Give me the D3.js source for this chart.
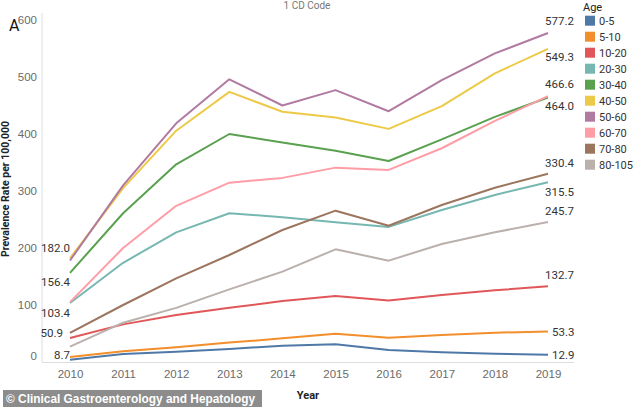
<!DOCTYPE html>
<html>
<head>
<meta charset="utf-8">
<script src="https://cdn.jsdelivr.net/npm/d3@7"></script>
<style>
    body { margin: 0; background: #fff; }
    svg { display: block; font-family: Roboto, "Noto Sans", sans-serif; }
</style>
</head>
<body>
<div id="chart"></div>
<script>
// data (prevalence per 100,000, by age band)
var years = [2010, 2011, 2012, 2013, 2014, 2015, 2016, 2017, 2018, 2019];
var ages = ["0-5", "5-10", "10-20", "20-30", "30-40", "40-50", "50-60", "60-70", "70-80", "80-105"];
var yTicks = [0, 100, 200, 300, 400, 500, 600];

var r0_5 = [4, 14, 18, 23, 28.6, 31, 21, 17, 14.6, 12.9];
var r5_10 = [8.7, 19, 25.7, 34, 41.5, 49.7, 42.7, 47.4, 51.5, 53.3];
var r10_20 = [42, 66, 82.5, 95, 107, 116, 108, 117.5, 125.7, 132.7];
var r20_30 = [103.4, 174, 227.5, 261, 254, 245, 237, 266.7, 293, 315.5];
var r30_40 = [156.4, 261, 346.8, 400, 385, 370.7, 352.6, 390.7, 430, 464.0];
var r40_50 = [182.0, 305, 405.8, 474, 439, 429, 409, 449, 506.5, 549.3];
var r50_60 = [178, 310, 418.7, 496, 450, 477, 440, 494.7, 541.5, 577.2];
var r60_70 = [105, 200, 274, 314.6, 323, 341, 337, 375, 423, 466.6];
var r70_80 = [50.9, 100, 146.8, 187.7, 231.6, 265.5, 239, 275.4, 305.8, 330.4];
var r80_105 = [27, 69, 95, 127.5, 158.5, 197.7, 177.8, 207, 227.5, 245.7];

var seriesValues = [r0_5, r5_10, r10_20, r20_30, r30_40, r40_50, r50_60, r60_70, r70_80, r80_105];
// series that carry a label at their first point
var startLabelled = ["5-10", "20-30", "30-40", "40-50", "70-80"];

// styling
var colors = ["#4e79a7", "#f28e2b", "#e15759", "#76b7b2", "#59a14f",
              "#edc948", "#b07aa1", "#ff9da7", "#9c755f", "#bab0ac"];
// vertical nudge of the value labels (0 = beside the point)
var startDy = { "5-10": -2, "20-30": 10, "30-40": 9, "40-50": -10, "70-80": 0 };
var endDy = { "0-5": 0, "5-10": 0, "10-20": -11, "20-30": 9.5, "30-40": 8.5,
              "40-50": 8, "50-60": -12, "60-70": -12, "70-80": -11, "80-105": -11 };

var width = 634, height = 407;
var plot = { left: 42, right: 574, top: 13, bottom: 362 };

var svg = d3.select("#chart").append("svg")
    .attr("width", width)
    .attr("height", height);

var x = d3.scaleLinear().domain([2010, 2019]).range([70, 548]);
var y = d3.scaleLinear().domain([0, 600]).range([plot.bottom, 20]);

var series = ages.map(function(a, i) {
    return {
        age: a,
        color: colors[i],
        points: years.map(function(yr, j) { return { year: yr, value: seriesValues[i][j] }; })
    };
});

// axis rules
svg.append("line")
    .attr("x1", plot.left).attr("x2", plot.left)
    .attr("y1", plot.top).attr("y2", plot.bottom)
    .attr("stroke", "#ddd").attr("stroke-width", 1);
svg.append("line")
    .attr("x1", plot.left).attr("x2", plot.right)
    .attr("y1", plot.bottom + 0.5).attr("y2", plot.bottom + 0.5)
    .attr("stroke", "#ddd").attr("stroke-width", 1);

var yAxis = svg.append("g")
    .attr("transform", "translate(37,0)")
    .call(d3.axisLeft(y).tickValues(yTicks).tickSize(0).tickPadding(0));
yAxis.select(".domain").remove();
yAxis.selectAll("text")
    .attr("fill", "#6b6b6b")
    .attr("font-size", "11.5px")
    .attr("dy", function(d) { return d === 0 ? "-0.25em" : "0.32em"; });

var xAxis = svg.append("g")
    .attr("transform", "translate(0," + plot.bottom + ")")
    .call(d3.axisBottom(x).tickValues(years).tickFormat(d3.format("d")).tickSize(0).tickPadding(8));
xAxis.select(".domain").remove();
xAxis.selectAll("text")
    .attr("fill", "#6b6b6b")
    .attr("font-size", "11.5px");

// lines
var line = d3.line()
    .x(function(d) { return x(d.year); })
    .y(function(d) { return y(d.value); });

svg.append("g").selectAll("path")
    .data(series)
    .enter().append("path")
    .attr("d", function(d) { return line(d.points); })
    .attr("fill", "none")
    .attr("stroke", function(d) { return d.color; })
    .attr("stroke-width", 2)
    .attr("stroke-linejoin", "round");

// value labels at the ends
var labels = svg.append("g")
    .attr("font-size", "11.5px")
    .attr("fill", "#333");

series.forEach(function(s) {
    var last = s.points[s.points.length - 1];
    var dy = endDy[s.age];
    labels.append("text")
        .attr("x", x(last.year) + (dy === 0 ? 4 : -3))
        .attr("y", y(last.value) + dy)
        .attr("dy", "0.35em")
        .text(last.value.toFixed(1));

    if (startLabelled.indexOf(s.age) >= 0) {
        var first = s.points[0];
        var sdy = startDy[s.age];
        labels.append("text")
            .attr("x", x(first.year) - (sdy === 0 ? 7 : 0))
            .attr("y", y(first.value) + sdy)
            .attr("dy", "0.35em")
            .attr("text-anchor", "end")
            .text(first.value.toFixed(1));
    }
});

// titles
svg.append("text")
    .attr("x", 307).attr("y", 9)
    .attr("text-anchor", "middle")
    .attr("font-size", "10px")
    .attr("fill", "#777")
    .text("1 CD Code");

svg.append("text")
    .attr("x", 9).attr("y", 31)
    .attr("font-size", "16px")
    .attr("fill", "#111")
    .text("A");

svg.append("text")
    .attr("transform", "translate(9,189) rotate(-90)")
    .attr("text-anchor", "middle")
    .attr("font-size", "10.5px")
    .attr("font-weight", "bold")
    .attr("fill", "#222")
    .text("Prevalence Rate per 100,000");

svg.append("text")
    .attr("x", 308).attr("y", 399)
    .attr("text-anchor", "middle")
    .attr("font-size", "11px")
    .attr("font-weight", "bold")
    .attr("fill", "#222")
    .text("Year");

// legend
var legend = svg.append("g").attr("transform", "translate(583,0)");
legend.append("text")
    .attr("x", 0).attr("y", 11)
    .attr("font-size", "11px")
    .attr("fill", "#222")
    .text("Age");

var item = legend.selectAll("g.item")
    .data(series)
    .enter().append("g")
    .attr("class", "item")
    .attr("transform", function(d, i) { return "translate(0," + (20.7 + i * 16) + ")"; });
item.append("rect")
    .attr("x", 2).attr("y", -5)
    .attr("width", 10).attr("height", 10)
    .attr("fill", function(d) { return d.color; });
item.append("text")
    .attr("x", 16).attr("dy", "0.35em")
    .attr("font-size", "11px")
    .attr("fill", "#333")
    .text(function(d) { return d.age; });

// credit strip
svg.append("rect")
    .attr("x", 3).attr("y", 390)
    .attr("width", 259).attr("height", 17)
    .attr("fill", "#8c8c8c");
svg.append("text")
    .attr("x", 6).attr("y", 403)
    .attr("font-family", "'Liberation Sans', Arial, sans-serif")
    .attr("font-size", "12.5px")
    .attr("font-weight", "bold")
    .attr("fill", "#fff")
    .attr("textLength", 249)
    .attr("lengthAdjust", "spacingAndGlyphs")
    .text("\u00a9 Clinical Gastroenterology and Hepatology");
</script>
</body>
</html>
